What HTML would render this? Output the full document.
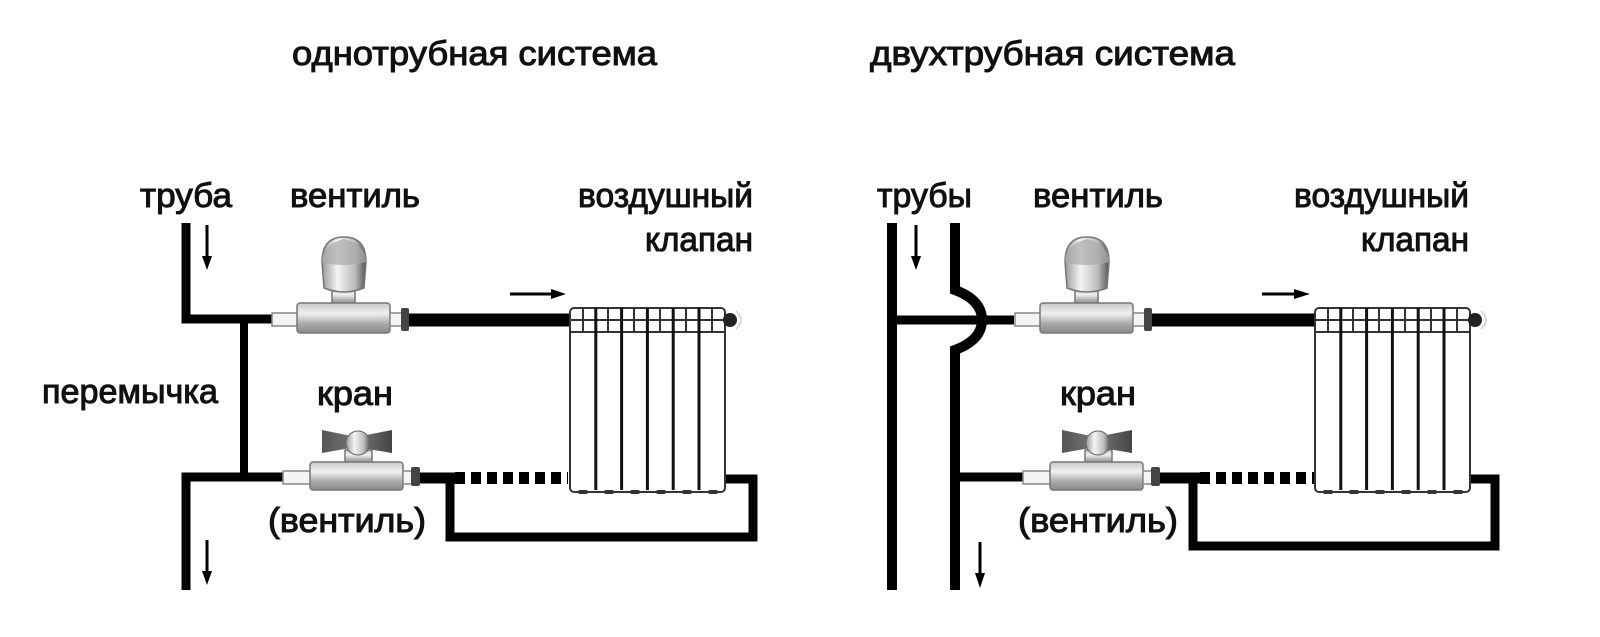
<!DOCTYPE html>
<html><head><meta charset="utf-8"><style>
html,body{margin:0;padding:0;background:#fff;}
svg{display:block;}
text{font-family:"Liberation Sans","DejaVu Sans",sans-serif;font-size:34px;fill:#111;stroke:#111;stroke-width:1.0;}
</style></head><body>
<svg width="1600" height="637" viewBox="0 0 1600 637" xmlns="http://www.w3.org/2000/svg">
<defs>
<linearGradient id="met" x1="0" y1="0" x2="0" y2="1">
<stop offset="0" stop-color="#c8c8c8"/><stop offset="0.35" stop-color="#f0f0f0"/><stop offset="0.7" stop-color="#a8a8a8"/><stop offset="1" stop-color="#8a8a8a"/></linearGradient>
<linearGradient id="head" x1="0" y1="0" x2="1" y2="0">
<stop offset="0" stop-color="#999"/><stop offset="0.35" stop-color="#f4f4f4"/><stop offset="0.75" stop-color="#bbb"/><stop offset="1" stop-color="#555"/></linearGradient>
<linearGradient id="bfly" x1="0" y1="0" x2="1" y2="0">
<stop offset="0" stop-color="#555"/><stop offset="0.5" stop-color="#777"/><stop offset="1" stop-color="#444"/></linearGradient>
<g id="tvalve">
<rect x="272" y="313" width="26" height="13" fill="#f4f4f4" stroke="#888" stroke-width="1.5"/>
<rect x="332" y="288" width="23" height="18" fill="url(#met)" stroke="#777" stroke-width="1.5"/>
<rect x="297" y="303" width="93" height="30" rx="3" fill="url(#met)" stroke="#777" stroke-width="1.5"/>
<rect x="390" y="313" width="12" height="13" fill="#f4f4f4" stroke="#888" stroke-width="1.5"/>
<rect x="401" y="308" width="8" height="23" rx="2" fill="#444"/>
<path d="M322 262 Q322 237 344 237 Q366 237 366 262 L364 288 Q344 296 324 288 Z" fill="url(#head)" stroke="#777" stroke-width="1.5"/>
<path d="M322 262 Q344 268 366 262 Q366 245 344 239 Q322 245 322 262 Z" fill="#aaa" opacity="0.7"/>
</g>
<g id="kvalve">
<rect x="283" y="471" width="28" height="13" fill="#f4f4f4" stroke="#888" stroke-width="1.5"/>
<rect x="345" y="450" width="27" height="14" fill="url(#met)" stroke="#777" stroke-width="1.5"/>
<rect x="310" y="462" width="93" height="28" rx="3" fill="url(#met)" stroke="#777" stroke-width="1.5"/>
<rect x="403" y="471" width="10" height="13" fill="#f4f4f4" stroke="#888" stroke-width="1.5"/>
<rect x="411" y="467" width="9" height="19" rx="2" fill="#444"/>
<path d="M322 430 L356 437 L392 430 L392 453 L356 447 L322 453 Z" fill="url(#bfly)"/>
<circle cx="358" cy="443" r="12" fill="url(#head)" stroke="#666"/>
</g>
<g id="rad">
<rect x="0" y="308" width="155" height="184" rx="4" fill="#fff" stroke="#333" stroke-width="2"/>
<line x1="0" y1="320" x2="155" y2="320" stroke="#333" stroke-width="2"/>
<line x1="0" y1="332" x2="155" y2="332" stroke="#333" stroke-width="2"/>
<g stroke="#333" stroke-width="2">
<line x1="13" y1="308" x2="13" y2="332"/><line x1="38" y1="308" x2="38" y2="332"/><line x1="64" y1="308" x2="64" y2="332"/><line x1="90" y1="308" x2="90" y2="332"/><line x1="116" y1="308" x2="116" y2="332"/><line x1="142" y1="308" x2="142" y2="332"/>
</g>
<g stroke="#111" stroke-width="3">
<line x1="25.8" y1="308" x2="25.8" y2="490"/><line x1="51.6" y1="308" x2="51.6" y2="490"/><line x1="77.4" y1="308" x2="77.4" y2="490"/><line x1="103.2" y1="308" x2="103.2" y2="490"/><line x1="129" y1="308" x2="129" y2="490"/>
</g>
<g fill="#333"><rect x="8" y="490" width="10" height="4" rx="2"/><rect x="34" y="490" width="10" height="4" rx="2"/><rect x="60" y="490" width="10" height="4" rx="2"/><rect x="86" y="490" width="10" height="4" rx="2"/><rect x="112" y="490" width="10" height="4" rx="2"/><rect x="138" y="490" width="10" height="4" rx="2"/></g>
<circle cx="160" cy="320" r="7" fill="#222"/>
<path d="M166 311 Q176 320 166 329" fill="none" stroke="#ccc" stroke-width="1.5"/>
</g>
</defs>

<text x="292" y="65" textLength="365" lengthAdjust="spacingAndGlyphs">однотрубная система</text>
<text x="870" y="65" textLength="365" lengthAdjust="spacingAndGlyphs">двухтрубная система</text>

<text x="140" y="207" textLength="92" lengthAdjust="spacingAndGlyphs">труба</text>
<text x="290" y="207" textLength="130" lengthAdjust="spacingAndGlyphs">вентиль</text>
<text x="578" y="207" textLength="175" lengthAdjust="spacingAndGlyphs">воздушный</text>
<text x="645" y="251" textLength="108" lengthAdjust="spacingAndGlyphs">клапан</text>
<text x="42" y="403" textLength="176" lengthAdjust="spacingAndGlyphs">перемычка</text>
<text x="317" y="405" textLength="76" lengthAdjust="spacingAndGlyphs">кран</text>
<text x="268" y="532" textLength="158" lengthAdjust="spacingAndGlyphs">(вентиль)</text>

<g fill="none" stroke="#000" stroke-linejoin="miter" stroke-linecap="butt">
<path d="M186 223 V319 H273" stroke-width="9"/>
<path d="M244 319 V477" stroke-width="8"/>
<path d="M186 590 V477 H284" stroke-width="9"/>
<path d="M409 320 H572" stroke-width="13"/>
<path d="M419 478 H455" stroke-width="11"/>
<path d="M450 478 V537 H753 V479 H724" stroke-width="9"/>
<path d="M455 478 H568" stroke-width="12" stroke-dasharray="10 6"/>
</g>
<use href="#tvalve"/>
<use href="#kvalve"/>
<use href="#rad" x="570"/>
<g stroke="#000" stroke-width="3" fill="#000">
<line x1="207" y1="225" x2="207" y2="258"/><path d="M202 256 L212 256 L207 270 Z" stroke="none"/>
<line x1="207" y1="540" x2="207" y2="573"/><path d="M202 571 L212 571 L207 585 Z" stroke="none"/>
<line x1="510" y1="294" x2="553" y2="294"/><path d="M551 289 L551 299 L566 294 Z" stroke="none"/>
</g>

<text x="877" y="207" textLength="95" lengthAdjust="spacingAndGlyphs">трубы</text>
<text x="1033" y="207" textLength="130" lengthAdjust="spacingAndGlyphs">вентиль</text>
<text x="1294" y="207" textLength="175" lengthAdjust="spacingAndGlyphs">воздушный</text>
<text x="1361" y="251" textLength="108" lengthAdjust="spacingAndGlyphs">клапан</text>
<text x="1060" y="405" textLength="76" lengthAdjust="spacingAndGlyphs">кран</text>
<text x="1018" y="532" textLength="160" lengthAdjust="spacingAndGlyphs">(вентиль)</text>

<g fill="none" stroke="#000" stroke-linejoin="miter" stroke-linecap="butt">
<path d="M892 223 V590" stroke-width="10"/>
<path d="M955 223 V290 Q982 300 982 320 Q982 340 955 350 V590" stroke-width="10"/>
<path d="M892 320 H1014" stroke-width="9"/>
<path d="M1145 320 H1317" stroke-width="13"/>
<path d="M955 477 H1024" stroke-width="9"/>
<path d="M1155 478 H1200" stroke-width="11"/>
<path d="M1193 478 V546 H1495 V479 H1466" stroke-width="9"/>
<path d="M1200 478 H1314" stroke-width="12" stroke-dasharray="10 6"/>
</g>
<use href="#tvalve" x="743"/>
<use href="#kvalve" x="740"/>
<use href="#rad" x="1315"/>
<g stroke="#000" stroke-width="3" fill="#000">
<line x1="916" y1="225" x2="916" y2="258"/><path d="M911 256 L921 256 L916 270 Z" stroke="none"/>
<line x1="980" y1="542" x2="980" y2="575"/><path d="M975 573 L985 573 L980 588 Z" stroke="none"/>
<line x1="1262" y1="294" x2="1296" y2="294"/><path d="M1294 289 L1294 299 L1310 294 Z" stroke="none"/>
</g>
</svg>
</body></html>
